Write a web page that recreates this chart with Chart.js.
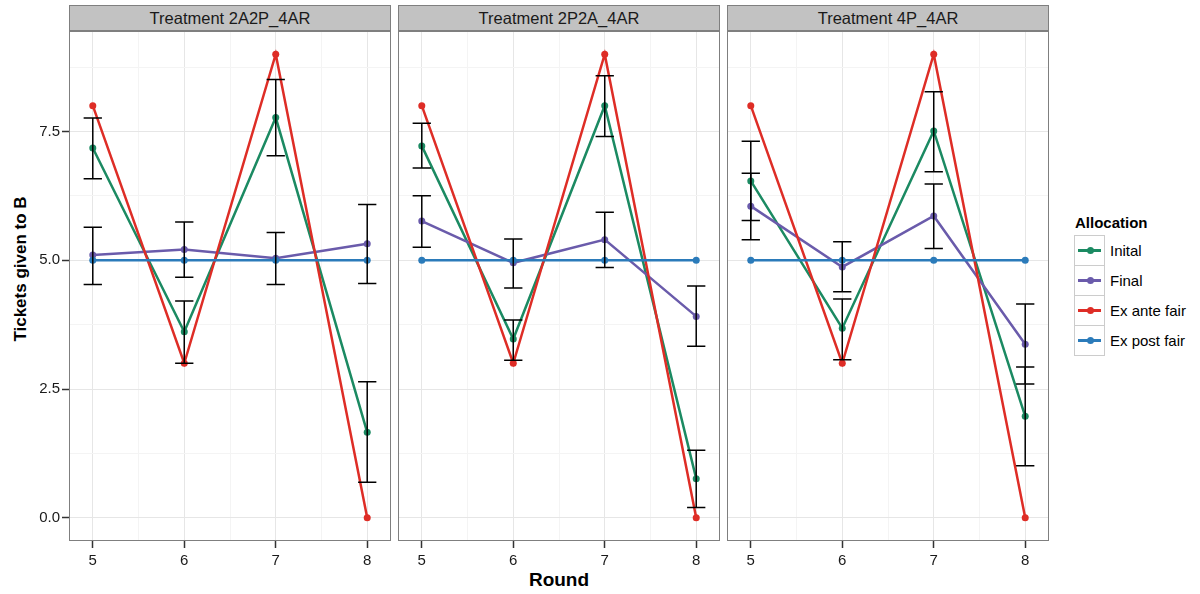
<!DOCTYPE html>
<html lang="en">
<head>
    <meta charset="UTF-8">
    <title>Tickets given to B by round</title>
    <script src="https://cdn.jsdelivr.net/npm/chart.js"></script>
    <style>
        body { margin: 0; background: #fff; font-family: "Liberation Sans", Arial, sans-serif; }
        #wrap { position: relative; width: 1200px; height: 594px; overflow: hidden; }
        .panel { position: absolute; top: 29px; }
        .strip { position: absolute; top: 5px; height: 26px; background: #c2c2c2; border: 1px solid #7f7f7f;
                 box-sizing: border-box; text-align: center; line-height: 25px; font-size: 16.5px; color: #1a1a1a; }
        .ytitle { position: absolute; left: 21px; top: 269px; transform: translate(-50%, -50%) rotate(-90deg);
                  font-weight: bold; font-size: 17px; white-space: nowrap; }
        .xtitle { position: absolute; left: 559px; top: 580px; transform: translate(-50%, -50%);
                  font-weight: bold; font-size: 19px; }
        .legend { position: absolute; left: 1074px; top: 214px; }
        .legend h4 { margin: 0 0 4px 1px; font-size: 15px; height: 17px; line-height: 17px; white-space: nowrap; }
        .row { position: relative; height: 30px; }
        .key { position: absolute; left: 0; top: 0; width: 31px; height: 31px; box-sizing: border-box;
               border: 1px solid #ccc; background: #fff; }
        .key .ln { position: absolute; left: 3px; right: 3px; top: 13px; height: 2.5px; }
        .key .pt { position: absolute; left: 11.5px; top: 11px; width: 7px; height: 7px; border-radius: 50%; }
        .row span { position: absolute; left: 36px; top: 7px; font-size: 15px; line-height: 18px; white-space: nowrap; }
    </style>
</head>
<body>
<div id="wrap">
    <div class="ytitle">Tickets given to B</div>
    <div class="xtitle">Round</div>
    <div class="legend" id="legend"><h4>Allocation</h4></div>
</div>

<script>
    const rounds = [5, 6, 7, 8];
    const panelNames = ['Treatment 2A2P_4AR', 'Treatment 2P2A_4AR', 'Treatment 4P_4AR'];
    const seriesNames = ['Inital', 'Final', 'Ex ante fair', 'Ex post fair'];
    const seriesColors = ['#1b8a62', '#6a5bab', '#de2d26', '#2b7bba'];
    const yTicks = [0, 2.5, 5, 7.5];

    // same in every panel
    const exAnte = [8, 3, 9, 0];
    const exPost = [5, 5, 5, 5];

    // Treatment 2A2P_4AR
    const initial2A2P = [7.18, 3.61, 7.77, 1.66];
    const initial2A2PLo = [6.58, 3.00, 7.03, 0.69];
    const initial2A2PHi = [7.76, 4.21, 8.51, 2.64];
    const final2A2P = [5.10, 5.21, 5.04, 5.32];
    const final2A2PLo = [4.53, 4.67, 4.53, 4.55];
    const final2A2PHi = [5.64, 5.74, 5.54, 6.08];

    // Treatment 2P2A_4AR
    const initial2P2A = [7.22, 3.47, 8.00, 0.76];
    const initial2P2ALo = [6.79, 3.06, 7.40, 0.20];
    const initial2P2AHi = [7.66, 3.84, 8.58, 1.31];
    const final2P2A = [5.76, 4.95, 5.40, 3.91];
    const final2P2ALo = [5.25, 4.46, 4.86, 3.33];
    const final2P2AHi = [6.25, 5.41, 5.93, 4.50];

    // Treatment 4P_4AR
    const initial4P = [6.54, 3.68, 7.51, 1.97];
    const initial4PLo = [5.77, 3.07, 6.72, 1.01];
    const initial4PHi = [7.31, 4.25, 8.27, 2.93];
    const final4P = [6.05, 4.87, 5.86, 3.37];
    const final4PLo = [5.40, 4.39, 5.23, 2.60];
    const final4PHi = [6.69, 5.36, 6.48, 4.15];

    const panels = [
        { initial: initial2A2P, final: final2A2P,
          bars: [[initial2A2PLo, initial2A2PHi], [final2A2PLo, final2A2PHi]] },
        { initial: initial2P2A, final: final2P2A,
          bars: [[initial2P2ALo, initial2P2AHi], [final2P2ALo, final2P2AHi]] },
        { initial: initial4P, final: final4P,
          bars: [[initial4PLo, initial4PHi], [final4PLo, final4PHi]] }
    ];

    const panelLeft = [69, 398, 727];
    const panelWidth = 322;
    const wrap = document.getElementById('wrap');

    // error bars, drawn on top of the lines
    const errbars = {
        id: 'errbars',
        afterDatasetsDraw(chart, args, opts) {
            const ctx = chart.ctx, x = chart.scales.x, y = chart.scales.y;
            ctx.save();
            ctx.strokeStyle = '#000';
            ctx.lineWidth = 1.5;
            opts.bars.forEach(([lo, hi]) => {
                rounds.forEach((r, i) => {
                    const px = x.getPixelForValue(r);
                    const x0 = x.getPixelForValue(r - 0.1), x1 = x.getPixelForValue(r + 0.1);
                    const yl = y.getPixelForValue(lo[i]), yh = y.getPixelForValue(hi[i]);
                    ctx.beginPath();
                    ctx.moveTo(px, yl); ctx.lineTo(px, yh);
                    ctx.moveTo(x0, yl); ctx.lineTo(x1, yl);
                    ctx.moveTo(x0, yh); ctx.lineTo(x1, yh);
                    ctx.stroke();
                });
            });
            ctx.restore();
        }
    };

    // panel frame
    const frame = {
        id: 'frame',
        afterDraw(chart) {
            const a = chart.chartArea, ctx = chart.ctx;
            ctx.save();
            ctx.strokeStyle = '#7f7f7f';
            ctx.lineWidth = 1;
            ctx.strokeRect(a.left + 0.5, a.top + 0.5, a.right - a.left - 1, a.bottom - a.top - 1);
            ctx.restore();
        }
    };

    const isMajorY = v => yTicks.includes(v);
    const isMajorX = v => rounds.includes(v);
    const noPad = s => { s.paddingTop = 0; s.paddingBottom = 0; s.paddingLeft = 0; s.paddingRight = 0; };

    panels.forEach((p, k) => {
        const strip = document.createElement('div');
        strip.className = 'strip';
        strip.style.left = panelLeft[k] + 'px';
        strip.style.width = panelWidth + 'px';
        strip.textContent = panelNames[k];
        wrap.appendChild(strip);

        const first = k === 0;
        const left = first ? 0 : panelLeft[k];
        const w = panelLeft[k] + panelWidth + 2 - left;
        const holder = document.createElement('div');
        holder.className = 'panel';
        holder.style.left = left + 'px';
        const cv = document.createElement('canvas');
        cv.width = w; cv.height = 565;
        holder.appendChild(cv);
        wrap.appendChild(holder);

        const values = [p.initial, p.final, exAnte, exPost];
        new Chart(cv, {
            type: 'line',
            data: {
                datasets: values.map((vals, s) => ({
                    label: seriesNames[s],
                    data: rounds.map((r, i) => ({ x: r, y: vals[i] })),
                    borderColor: seriesColors[s],
                    backgroundColor: seriesColors[s],
                    borderWidth: 2.5,
                    pointRadius: 3.5,
                    pointBorderWidth: 0,
                    tension: 0,
                    order: 3 - s
                }))
            },
            options: {
                responsive: false,
                animation: false,
                layout: { autoPadding: false, padding: { top: 2, right: 2, left: 0, bottom: 0 } },
                plugins: {
                    legend: { display: false },
                    tooltip: { enabled: false },
                    errbars: { bars: p.bars }
                },
                scales: {
                    x: {
                        type: 'linear',
                        min: 4.74, max: 8.26,
                        afterBuildTicks: s => { s.ticks = [5, 5.5, 6, 6.5, 7, 7.5, 8].map(v => ({ value: v })); },
                        afterFit: s => { s.height = 53; noPad(s); },
                        border: { display: false },
                        grid: {
                            color: c => isMajorX(c.tick.value) ? '#e6e6e6' : '#f4f4f4',
                            tickColor: c => isMajorX(c.tick.value) ? '#333' : 'rgba(0,0,0,0)',
                            tickLength: 7,
                            tickWidth: 1.5
                        },
                        ticks: {
                            autoSkip: false, maxRotation: 0, padding: 4,
                            color: '#1a1a1a',
                            font: { family: '"Liberation Sans", Arial', size: 15 },
                            callback: v => isMajorX(v) ? String(v) : ''
                        }
                    },
                    y: {
                        min: -0.45, max: 9.45,
                        afterBuildTicks: s => { s.ticks = [0, 1.25, 2.5, 3.75, 5, 6.25, 7.5, 8.75].map(v => ({ value: v })); },
                        afterFit: s => { s.width = first ? 69 : 0; noPad(s); },
                        border: { display: false },
                        grid: {
                            color: c => isMajorY(c.tick.value) ? '#e6e6e6' : '#f4f4f4',
                            tickColor: c => first && isMajorY(c.tick.value) ? '#333' : 'rgba(0,0,0,0)',
                            drawTicks: first,
                            tickLength: 7,
                            tickWidth: 1.5
                        },
                        ticks: {
                            display: first,
                            padding: 2,
                            color: '#1a1a1a',
                            font: { family: '"Liberation Sans", Arial', size: 15 },
                            callback: v => isMajorY(v) ? v.toFixed(1) : ''
                        }
                    }
                }
            },
            plugins: [errbars, frame]
        });
    });

    // legend
    const legend = document.getElementById('legend');
    seriesNames.forEach((name, s) => {
        const row = document.createElement('div');
        row.className = 'row';
        row.innerHTML = '<div class="key"><div class="ln" style="background:' + seriesColors[s] + '"></div>' +
            '<div class="pt" style="background:' + seriesColors[s] + '"></div></div><span>' + name + '</span>';
        legend.appendChild(row);
    });
</script>
</body>
</html>
